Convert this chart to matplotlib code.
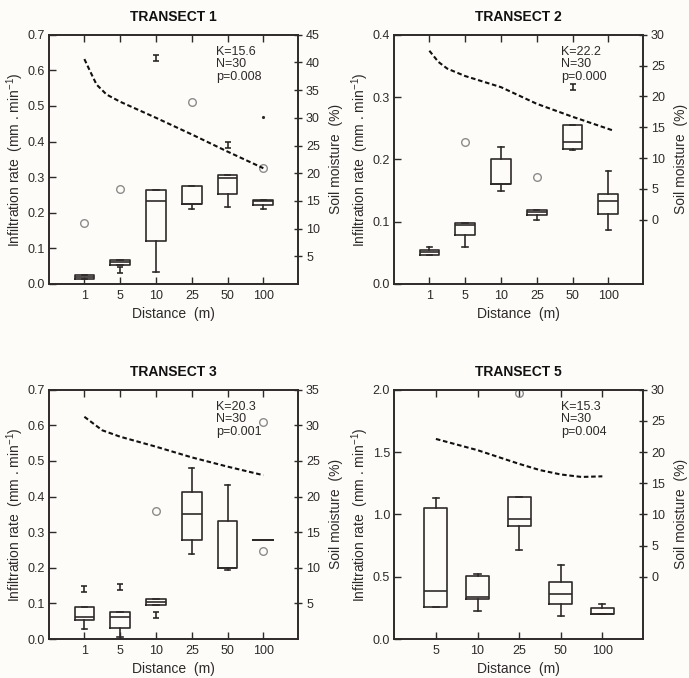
import matplotlib
matplotlib.use('Agg')
import matplotlib.pyplot as plt
from matplotlib.path import Path

plt.rcParams['font.family'] = ['Liberation Sans', 'DejaVu Sans']
plt.rcParams['mathtext.default'] = 'regular'

# ---------------- data ----------------
# Transect 1
t1_cats = ['1', '5', '10', '25', '50', '100']
t1_q1 = [0.014, 0.052, 0.121, 0.225, 0.252, 0.221]
t1_med = [0.020, 0.063, 0.233, 0.225, 0.297, 0.233]
t1_q3 = [0.026, 0.068, 0.264, 0.275, 0.305, 0.237]
t1_lo = [0.014, 0.052, 0.033, 0.210, 0.217, 0.211]
t1_hi = [0.026, 0.068, 0.264, 0.275, 0.305, 0.237]
t1_circ_cat = ['1', '5', '25', '100']
t1_circ_val = [0.170, 0.267, 0.512, 0.326]
t1_ext_cat = ['5', '10', '50']
t1_ext_val = [0.039, 0.635, 0.390]
t1_dot_cat = ['100']
t1_dot_val = [0.470]
t1_sm_pos = [1.0, 1.16, 1.34, 1.62, 2.0, 3.0, 4.0, 5.0, 6.0]
t1_sm_val = [40.6, 38.4, 36.0, 34.2, 32.9, 30.0, 27.0, 23.9, 20.9]
t1_stats = 'K=15.6\nN=30\np=0.008'

# Transect 2
t2_cats = ['1', '5', '10', '25', '50', '100']
t2_q1 = [0.047, 0.078, 0.160, 0.111, 0.216, 0.113]
t2_med = [0.051, 0.094, 0.160, 0.115, 0.228, 0.133]
t2_q3 = [0.055, 0.098, 0.200, 0.119, 0.255, 0.144]
t2_lo = [0.046, 0.060, 0.150, 0.103, 0.215, 0.087]
t2_hi = [0.060, 0.098, 0.220, 0.119, 0.255, 0.182]
t2_circ_cat = ['5', '25']
t2_circ_val = [0.228, 0.172]
t2_ext_cat = ['50']
t2_ext_val = [0.316]
t2_dot_cat = []
t2_dot_val = []
t2_sm_pos = [1.0, 1.25, 1.5, 2.0, 3.0, 4.0, 5.0, 6.12]
t2_sm_val = [27.4, 25.6, 24.5, 23.3, 21.5, 18.8, 16.7, 14.5]
t2_stats = 'K=22.2\nN=30\np=0.000'

# Transect 3
t3_cats = ['1', '5', '10', '25', '50', '100']
t3_q1 = [0.053, 0.030, 0.095, 0.278, 0.198, 0.277]
t3_med = [0.061, 0.061, 0.104, 0.350, 0.198, 0.277]
t3_q3 = [0.090, 0.076, 0.113, 0.413, 0.330, 0.277]
t3_lo = [0.027, 0.005, 0.095, 0.240, 0.195, 0.277]
t3_hi = [0.090, 0.076, 0.113, 0.480, 0.433, 0.277]
t3_circ_cat = ['10', '100', '100']
t3_circ_val = [0.360, 0.246, 0.610]
t3_ext_cat = ['1', '5', '10']
t3_ext_val = [0.140, 0.145, 0.067]
t3_dot_cat = []
t3_dot_val = []
t3_sm_pos = [1.0, 1.5, 2.0, 3.0, 4.0, 5.0, 6.0]
t3_sm_val = [31.2, 29.3, 28.4, 27.0, 25.5, 24.2, 23.0]
t3_stats = 'K=20.3\nN=30\np=0.001'

# Transect 5
t5_cats = ['5', '10', '25', '50', '100']
t5_q1 = [0.259, 0.320, 0.907, 0.280, 0.198]
t5_med = [0.387, 0.334, 0.961, 0.360, 0.200]
t5_q3 = [1.047, 0.504, 1.140, 0.459, 0.246]
t5_lo = [0.259, 0.224, 0.713, 0.184, 0.198]
t5_hi = [1.130, 0.520, 1.140, 0.592, 0.278]
t5_circ_cat = ['25']
t5_circ_val = [1.970]
t5_ext_cat = []
t5_ext_val = []
t5_dot_cat = []
t5_dot_val = []
t5_sm_pos = [1.0, 1.5, 2.0, 2.5, 3.0, 3.5, 4.0, 4.5, 5.0]
t5_sm_val = [22.1, 21.2, 20.3, 19.2, 18.1, 17.1, 16.4, 16.0, 16.1]
t5_stats = 'K=15.3\nN=30\np=0.004'

# ---------------- styling ----------------
BG = '#fdfcf9'
INK = '#2e2a2a'
GRAY = '#8c8c8c'
FS = 9

ibeam = Path([(-0.5, 0.5), (0.5, 0.5), (0, 0.5), (0, -0.5), (-0.5, -0.5), (0.5, -0.5)],
             [Path.MOVETO, Path.LINETO, Path.MOVETO, Path.LINETO, Path.MOVETO, Path.LINETO])

fig = plt.figure(figsize=(6.89, 6.78), dpi=100, facecolor=BG)


def panel(rect, title, cats, q1, med, q3, lo, hi, circ_cat, circ_val, ext_cat, ext_val,
          dot_cat, dot_val, sm_pos, sm_val, stats, lylim, lyticks, rylim, ryticks, xlim):
    ax = fig.add_axes(rect)
    ax.set_facecolor(BG)
    pos = list(range(1, len(cats) + 1))
    bstats = []
    for i in range(len(cats)):
        bstats.append(dict(med=med[i], q1=q1[i], q3=q3[i], whislo=lo[i], whishi=hi[i], fliers=[]))
    lp = dict(color=INK, linewidth=1.2)
    ax.bxp(bstats, positions=pos, widths=0.55, showfliers=False, manage_ticks=False,
           boxprops=lp, medianprops=lp, whiskerprops=lp, capprops=lp, capwidths=0.15)
    if circ_cat:
        ax.plot([cats.index(c) + 1 for c in circ_cat], circ_val, 'o', ms=5.5, mfc='none',
                mec=GRAY, mew=1.0, zorder=4)
    if ext_cat:
        ax.plot([cats.index(c) + 1 for c in ext_cat], ext_val, ls='none', marker=ibeam, ms=5,
                mec=INK, mew=1.2, zorder=4)
    if dot_cat:
        ax.plot([cats.index(c) + 1 for c in dot_cat], dot_val, '.', ms=2.5, color=INK, zorder=4)
    ax.set_xlim(*xlim)
    ax.set_ylim(*lylim)
    ax.set_xticks(pos)
    ax.set_xticklabels(cats)
    ax.set_yticks(lyticks)
    ax.set_yticklabels(['%.1f' % v for v in lyticks])
    ax.tick_params(axis='both', which='both', direction='in', length=5, width=1.0,
                   colors=INK, labelsize=FS, top=True, pad=3)
    ax.tick_params(axis='x', labeltop=False, pad=4)
    for s in ax.spines.values():
        s.set_color(INK)
        s.set_linewidth(1.2)
    ax.set_title(title, fontsize=10, fontweight='bold', color='#111111', pad=10)
    ax.set_xlabel('Distance  (m)', fontsize=10, color=INK, labelpad=4)
    ax.set_ylabel('Infiltration rate  (mm . min$^{-1}$)', fontsize=10, color=INK, labelpad=1)
    ax.text(0.67, 0.955, stats, transform=ax.transAxes, ha='left', va='top', fontsize=FS,
            color=INK, linespacing=1.05)

    ax2 = ax.twinx()
    ax2.plot(sm_pos, sm_val, color='#111111', lw=1.5, ls=(0, (2.2, 1.3)))
    ax2.set_ylim(*rylim)
    ax2.set_yticks(ryticks)
    ax2.set_yticklabels(['%d' % v for v in ryticks])
    ax2.tick_params(axis='y', direction='inout', length=6, width=1.0, colors=INK,
                    labelsize=FS, pad=3)
    for s in ax2.spines.values():
        s.set_color(INK)
        s.set_linewidth(1.2)
    ax2.set_ylabel('Soil moisture  (%)', fontsize=10, color=INK, labelpad=6.5)
    return ax


W = (297.7 - 49.3) / 689
H = (284 - 34.7) / 678
L1 = 49.3 / 689
L2 = 394.3 / 689
B1 = (678 - 284) / 678
B2 = (678 - 639) / 678

panel([L1, B1, W, H], 'TRANSECT 1', t1_cats, t1_q1, t1_med, t1_q3, t1_lo, t1_hi,
      t1_circ_cat, t1_circ_val, t1_ext_cat, t1_ext_val, t1_dot_cat, t1_dot_val,
      t1_sm_pos, t1_sm_val, t1_stats, (0, 0.7), [0, .1, .2, .3, .4, .5, .6, .7],
      (0, 45), [5, 10, 15, 20, 25, 30, 35, 40, 45], (0.02, 6.96))
panel([L2, B1, W, H], 'TRANSECT 2', t2_cats, t2_q1, t2_med, t2_q3, t2_lo, t2_hi,
      t2_circ_cat, t2_circ_val, t2_ext_cat, t2_ext_val, t2_dot_cat, t2_dot_val,
      t2_sm_pos, t2_sm_val, t2_stats, (0, 0.4), [0, .1, .2, .3, .4],
      (-10.4, 30), [0, 5, 10, 15, 20, 25, 30], (0.02, 6.96))
panel([L1, B2, W, H], 'TRANSECT 3', t3_cats, t3_q1, t3_med, t3_q3, t3_lo, t3_hi,
      t3_circ_cat, t3_circ_val, t3_ext_cat, t3_ext_val, t3_dot_cat, t3_dot_val,
      t3_sm_pos, t3_sm_val, t3_stats, (0, 0.7), [0, .1, .2, .3, .4, .5, .6, .7],
      (0, 35), [5, 10, 15, 20, 25, 30, 35], (0.02, 6.96))
panel([L2, B2, W, H], 'TRANSECT 5', t5_cats, t5_q1, t5_med, t5_q3, t5_lo, t5_hi,
      t5_circ_cat, t5_circ_val, t5_ext_cat, t5_ext_val, t5_dot_cat, t5_dot_val,
      t5_sm_pos, t5_sm_val, t5_stats, (0, 2.0), [0, .5, 1.0, 1.5, 2.0],
      (-10, 30), [0, 5, 10, 15, 20, 25, 30], (0.0, 5.97))

fig.savefig('out.png', dpi=100, facecolor=BG)
